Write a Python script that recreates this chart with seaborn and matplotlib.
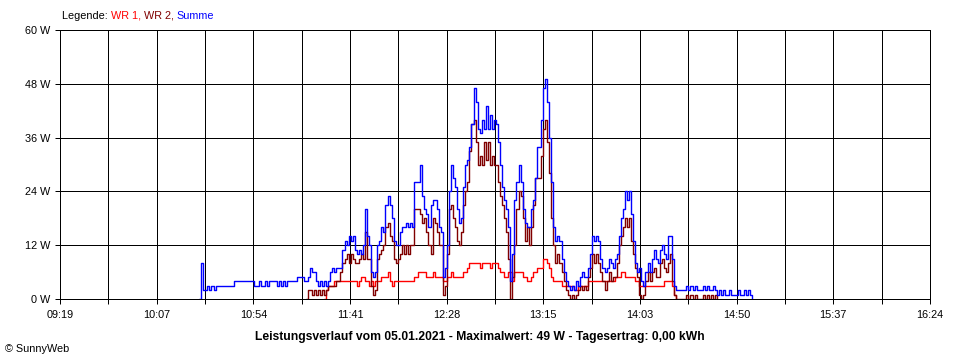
import numpy as np
import pandas as pd
import matplotlib
matplotlib.use("Agg")
import matplotlib.pyplot as plt
import seaborn as sns

# Messwerte je Minute (W), Zeit in Minuten ab 09:19
x_labels = ["09:19", "10:07", "10:54", "11:41", "12:28", "13:15", "14:03", "14:50", "15:37", "16:24"]
y_ticks = [0, 12, 24, 36, 48, 60]
t_end = 425  # 09:19 -> 16:24

summe_start = 68
summe = [
    0, 8, 2, 2, 3, 2, 3, 2, 3, 3,
    3, 3, 3, 3, 3, 3, 3, 4, 4, 4,
    4, 4, 4, 4, 4, 4, 4, 3, 3, 4,
    3, 3, 4, 3, 4, 4, 4, 4, 3, 4,
    3, 4, 3, 4, 4, 4, 4, 4, 5, 5,
    5, 4, 4, 5, 7, 6, 6, 4, 3, 4,
    3, 4, 3, 4, 6, 7, 6, 7, 7, 7,
    11, 13, 12, 14, 13, 14, 11, 10, 11, 10,
    12, 20, 14, 12, 6, 5, 6, 12, 13, 16,
    15, 21, 23, 21, 18, 13, 12, 12, 15, 16,
    16, 17, 16, 17, 16, 26, 26, 26, 30, 23,
    20, 19, 16, 21, 22, 22, 20, 16, 15, 5,
    7, 12, 24, 30, 27, 25, 20, 17, 18, 25,
    30, 31, 34, 39, 47, 44, 38, 37, 40, 38,
    43, 38, 41, 38, 40, 39, 35, 30, 25, 22,
    20, 16, 4, 10, 22, 26, 30, 26, 20, 17,
    16, 16, 20, 22, 27, 34, 34, 40, 47, 49,
    44, 36, 26, 16, 13, 14, 13, 9, 6, 4,
    3, 2, 3, 2, 4, 3, 5, 6, 5, 5,
    7, 10, 14, 13, 14, 13, 9, 7, 6, 7,
    9, 8, 7, 9, 10, 14, 18, 20, 24, 22,
    24, 19, 13, 8, 6, 7, 4, 3, 6, 8,
    6, 9, 11, 9, 8, 11, 12, 10, 9, 14,
    14, 9, 3, 2, 2, 2, 2, 2, 3, 2,
    3, 2, 3, 2, 2, 2, 3, 2, 3, 2,
    2, 3, 2, 1, 2, 1, 2, 1, 1, 2,
    1, 1, 1, 2, 1, 1, 2, 1, 2, 1, 0,
]

wr1_start = 129
wr1 = [
    0, 2, 3, 3, 3, 4, 4, 4, 4, 4,
    4, 4, 4, 4, 4, 4, 3, 4, 5, 5,
    4, 4, 3, 4, 3, 4, 4, 4, 5, 5,
    5, 6, 4, 3, 4, 4, 4, 4, 4, 4,
    4, 4, 4, 4, 5, 5, 6, 6, 6, 6,
    5, 5, 5, 6, 5, 5, 5, 5, 4, 4,
    5, 5, 6, 5, 5, 5, 5, 5, 6, 6,
    7, 8, 8, 8, 8, 8, 7, 8, 8, 8,
    8, 7, 8, 8, 8, 7, 6, 6, 5, 5,
    6, 6, 4, 6, 6, 6, 6, 5, 5, 4,
    4, 5, 6, 6, 7, 7, 7, 9, 9, 8,
    7, 5, 4, 4, 4, 4, 3, 3, 3, 3,
    3, 3, 2, 2, 3, 3, 3, 3, 3, 4,
    4, 4, 4, 4, 4, 4, 4, 4, 4, 4,
    4, 4, 5, 5, 5, 6, 6, 5, 5, 5,
    5, 5, 4, 4, 3, 3, 3, 3, 3, 3,
    3, 3, 3, 3, 3, 3, 4, 4, 4, 4,
    3, 1, 0,
]

wr2_start = 120
wr2 = [
    0, 2, 2, 1, 2, 1, 2, 1, 2, 1,
    2, 3, 3, 3, 3, 4, 4, 6, 8, 9,
    10, 8, 10, 9, 8, 8, 9, 10, 9, 15,
    9, 9, 3, 1, 2, 9, 10, 11, 12, 16,
    17, 14, 13, 9, 8, 9, 10, 12, 10, 12,
    10, 12, 12, 20, 20, 20, 19, 17, 18, 15,
    12, 10, 18, 17, 15, 12, 12, 1, 3, 10,
    20, 21, 18, 16, 13, 12, 15, 21, 24, 26,
    33, 39, 40, 35, 30, 32, 30, 35, 31, 35,
    30, 32, 30, 30, 26, 23, 21, 18, 15, 9,
    0, 5, 12, 20, 24, 23, 18, 13, 16, 12,
    16, 21, 27, 27, 27, 32, 38, 40, 35, 28,
    18, 12, 8, 10, 8, 6, 4, 2, 1, 0,
    1, 0, 1, 2, 3, 2, 3, 2, 5, 7,
    10, 8, 10, 8, 6, 4, 2, 4, 6, 4,
    5, 5, 8, 12, 14, 16, 18, 16, 18, 13,
    10, 7, 5, 1, 0, 1, 4, 6, 4, 6,
    7, 5, 5, 8, 9, 7, 6, 8, 10, 4,
    1, 0, 0, 0, 0, 0, 1, 0, 1, 0,
    1, 0, 0, 0, 1, 0, 1, 0, 1, 0, 1, 0,
]

series = [
    ("WR 1", wr1_start, wr1, "#ff0000"),
    ("WR 2", wr2_start, wr2, "#800000"),
    ("Summe", summe_start, summe, "#0000ff"),
]

sns.set_theme(style="white")
plt.rcParams["font.family"] = ["Liberation Sans", "DejaVu Sans"]

fig = plt.figure(figsize=(9.6, 3.6), dpi=100)
ax = fig.add_axes([60 / 960, 1 - 299 / 360, 870 / 960, 269 / 360])

for name, start, vals, col in series:
    df = pd.DataFrame({"t": start + np.arange(len(vals)), "w": vals})
    sns.lineplot(data=df, x="t", y="w", ax=ax, color=col,
                 drawstyle="steps-post", estimator=None)
for ln in ax.lines:
    ln.set_linewidth(1.0)
    ln.set_antialiased(True)

ax.set_xlim(0, t_end)
ax.set_ylim(0, 60)
xt = np.linspace(0, t_end, 19)
ax.set_xticks(xt)
ax.set_xticklabels([x_labels[i // 2] if i % 2 == 0 else "" for i in range(19)])
ax.set_yticks(y_ticks)
ax.set_yticklabels([f"{v} W" for v in y_ticks])
ax.set_xlabel("")
ax.set_ylabel("")
ax.grid(True, color="black", linewidth=0.72, antialiased=False)
ax.set_axisbelow(True)
for s in ax.spines.values():
    s.set_color("black")
    s.set_linewidth(0.72)
    s.set_antialiased(False)
ax.tick_params(axis="both", direction="out", length=3.6, width=0.72, color="black",
               labelsize=7.8, labelcolor="black", bottom=True, left=True)
ax.tick_params(axis="x", pad=4)
ax.tick_params(axis="y", pad=3.6)

# Legende oben links
fig.canvas.draw()
r = fig.canvas.get_renderer()
x = 62 / 960
for txt, col in [("Legende: ", "black"), ("WR 1, ", "#ff0000"), ("WR 2, ", "#800000"), ("Summe", "#0000ff")]:
    tt = fig.text(x, 1 - 16 / 360, txt, color=col, fontsize=7.8, va="center", ha="left")
    bb = tt.get_window_extent(renderer=r)
    x += bb.width / fig.bbox.width

fig.text(480 / 960, 1 - 337 / 360,
         "Leistungsverlauf vom 05.01.2021 - Maximalwert: 49 W - Tagesertrag: 0,00 kWh",
         fontsize=8.7, fontweight="bold", ha="center", va="center", color="black")
fig.text(5 / 960, 1 - 349 / 360, "\u00a9 SunnyWeb", fontsize=7.8, ha="left", va="center", color="black")

fig.savefig("out.png", dpi=100, facecolor="white")
